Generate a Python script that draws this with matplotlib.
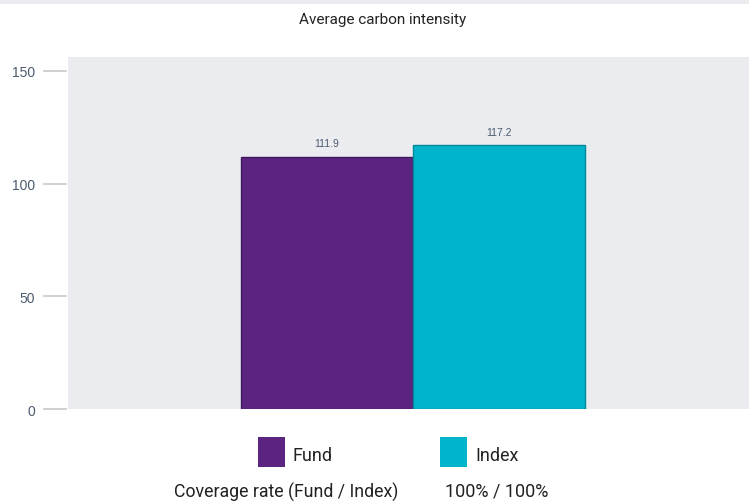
import matplotlib.pyplot as plt
from matplotlib.patches import Rectangle

# data
categories = ['Fund', 'Index']
values = [111.9, 117.2]
colors = ['#5B2480', '#00B4CC']
edges = ['#3F1860', '#00889C']
yticks = [0, 50, 100, 150]
title = 'Average carbon intensity'
coverage_label = 'Coverage rate (Fund / Index)'
coverage_value = '100% / 100%'

W, H = 749, 502
narrow = ['Roboto', 'DejaVu Sans']
tick_col = '#4A5B6E'

fig = plt.figure(figsize=(W / 100, H / 100), dpi=100)

def fx(px):
    return px / W

def fy(py):
    return 1 - py / H

# light band at the very top
fig.patches.append(Rectangle((0, fy(5)), 1, 5 / H, transform=fig.transFigure,
                             facecolor='#EBECF0', edgecolor='none'))

ax = fig.add_axes([fx(68), fy(410), fx(749) - fx(68), fy(58) - fy(410)])
ax.set_facecolor('#EBECF0')
for s in ax.spines.values():
    s.set_visible(False)

# bars in axes-wide x units (0..1)
bar_w = 172 / 681
lefts = [(241 - 68) / 681, (413 - 68) / 681]
bars = ax.bar(lefts, values, width=bar_w, align='edge', color=colors,
              edgecolor=edges, linewidth=1)
ax.set_xlim(0, 1)
ax.set_ylim(0, 156.2)
ax.set_xticks([])

for b, v in zip(bars, values):
    ax.annotate(f'{v:.1f}', (b.get_x() + b.get_width() / 2, v),
                xytext=(0, 6), textcoords='offset points', ha='center',
                va='bottom', fontsize=7.5, color=tick_col,
                family='Liberation Sans')

# y ticks: gray dashes left of the plot area, with a small gap
ax.set_yticks(yticks)
ax.tick_params(axis='y', length=0, pad=23.5, labelsize=10, labelcolor=tick_col)
for lbl in ax.get_yticklabels():
    lbl.set_family('Liberation Sans')
ytr = ax.get_yaxis_transform()
for t in yticks:
    ax.plot([-24 / 681, -2 / 681], [t, t], color='#C8C8C8', lw=1.2,
            transform=ytr, clip_on=False)

fig.text(fx(383), fy(20), title, ha='center', va='center', fontsize=11,
         color='#222222', family=narrow)

# legend
for c, x0, name, tx in [(colors[0], 258, categories[0], 293),
                        (colors[1], 440, categories[1], 475)]:
    fig.patches.append(Rectangle((fx(x0), fy(468)), 27 / W, 30 / H,
                                 transform=fig.transFigure, facecolor=c,
                                 edgecolor='none'))
    fig.text(fx(tx), fy(456), name, ha='left', va='center', fontsize=13,
             color='#222222', family=narrow)

fig.text(fx(174), fy(492), coverage_label, ha='left', va='center',
         fontsize=12.8, color='#222222', family=narrow)
fig.text(fx(445), fy(492), coverage_value, ha='left', va='center',
         fontsize=13, color='#222222', family=narrow)

fig.savefig('out.png', dpi=100)
